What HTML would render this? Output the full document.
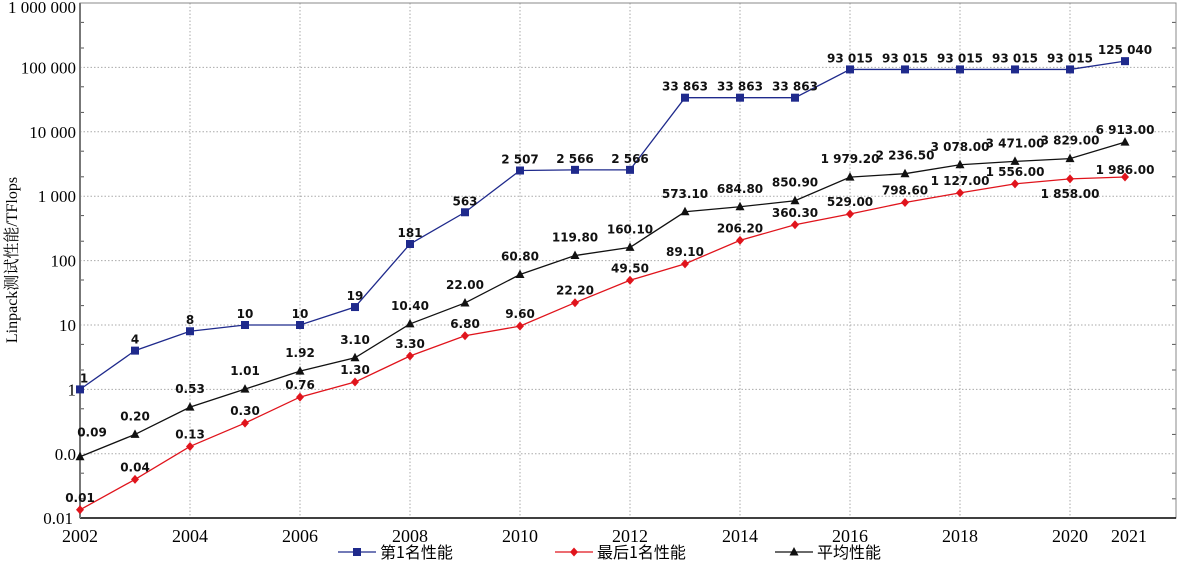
<!DOCTYPE html><html><head><meta charset="utf-8"><style>body{margin:0;background:#fff}svg{display:block}</style></head><body>
<svg id="s" width="1181" height="565" xmlns="http://www.w3.org/2000/svg"></svg>
<script>
const s=document.getElementById('s');let h='';
const X=y=>80+55*(y-2002), Y=v=>3+64.4*(6-Math.log10(v));
for(let d=0;d<=8;d++){const y=3+64.4*d;if(d>0&&d<8)h+=`<line x1="80" x2="1176" y1="${y}" y2="${y}" stroke="#aaa" stroke-dasharray="1.5,2"/>`;
const lab=['1 000 000','100 000','10 000','1 000','100','10','1','0.0','0.01'][d];
h+=`<text x="${d==8?73:76}" y="${d==0?13:y+6}" text-anchor="end" font-family="Liberation Serif,serif" font-size="17">${lab}</text>`;
for(const m of [2,5]){const yy=y-64.4*Math.log10(m);if(d>0)h+=`<line x1="80" x2="84" y1="${yy}" y2="${yy}" stroke="#555"/><line x1="1172" x2="1176" y1="${yy}" y2="${yy}" stroke="#555"/>`;}}
for(let yr=2004;yr<=2020;yr+=2)h+=`<line x1="${X(yr)}" x2="${X(yr)}" y1="3" y2="518" stroke="#aaa" stroke-dasharray="1.5,2"/>`;
h+=`<rect x="80" y="3" width="1096" height="515" fill="none" stroke="#888"/><line x1="80" x2="1176" y1="518" y2="518" stroke="#000" stroke-width="1.5"/><line x1="80" x2="80" y1="3" y2="518" stroke="#777" stroke-width="2"/>`;
for(const yr of [2002,2004,2006,2008,2010,2012,2014,2016,2018,2020,2021])h+=`<text x="${X(yr)+(yr==2021?4:0)}" y="542" text-anchor="middle" font-family="Liberation Serif,serif" font-size="18">${yr}</text>`;
h+=`<text transform="translate(17,260) rotate(-90)" text-anchor="middle" font-family="Liberation Serif,'Noto Serif CJK SC',serif" font-size="16">Linpack测试性能/TFlops</text>`;
const A=[1,4,8,10,10,19,181,563,2507,2566,2566,33863,33863,33863,93015,93015,93015,93015,93015,125040];
const AL=['1','4','8','10','10','19','181','563','2 507','2 566','2 566','33 863','33 863','33 863','93 015','93 015','93 015','93 015','93 015','125 040'];
const B=[0.0135,0.04,0.13,0.30,0.76,1.30,3.30,6.80,9.60,22.20,49.50,89.10,206.20,360.30,529,798.6,1127,1556,1858,1986];
const BL=['0.01','0.04','0.13','0.30','0.76','1.30','3.30','6.80','9.60','22.20','49.50','89.10','206.20','360.30','529.00','798.60','1 127.00','1 556.00','1 858.00','1 986.00'];
const C=[0.09,0.20,0.53,1.01,1.92,3.10,10.40,22.00,60.80,119.80,160.10,573.10,684.80,850.90,1979.20,2236.50,3078,3471,3829,6913];
const CL=['0.09','0.20','0.53','1.01','1.92','3.10','10.40','22.00','60.80','119.80','160.10','573.10','684.80','850.90','1 979.20','2 236.50','3 078.00','3 471.00','3 829.00','6 913.00'];
function ser(v,L,col,mk,dy){let p=v.map((a,i)=>X(2002+i)+','+Y(a)).join(' ');
h+=`<polyline points="${p}" fill="none" stroke="${col}" stroke-width="1.3"/>`;
v.forEach((a,i)=>{const x=X(2002+i),y=Y(a);h+=mark(x,y,col,mk);
let lx=x,ly=y-dy(i);if(L===AL&&i==0)lx=x+4;if(L===BL&&i==18)ly=y+19;if(L===CL&&i==0)lx=x+12,ly=y-20;
h+=`<text x="${lx}" y="${ly}" text-anchor="middle" font-family="DejaVu Sans,sans-serif" font-weight="bold" font-size="12" fill="#111">${L[i]}</text>`;});}
function mark(x,y,c,m){if(m=='s')return `<rect x="${x-4}" y="${y-4}" width="8" height="8" fill="${c}"/>`;
if(m=='d')return `<polygon points="${x},${y-4.5} ${x+4},${y} ${x},${y+4.5} ${x-4},${y}" fill="${c}"/>`;
return `<polygon points="${x},${y-5} ${x+4.5},${y+3.5} ${x-4.5},${y+3.5}" fill="${c}"/>`;}
ser(A,AL,'#1f2a8c','s',()=>7);ser(B,BL,'#e0141c','d',i=>i==19?3:8);ser(C,CL,'#111','t',i=>i==19?8:14);
[[338,'#1f2a8c','s','第1名性能'],[555,'#e0141c','d','最后1名性能'],[775,'#111','t','平均性能']].forEach(([x,c,m,t])=>{
h+=`<line x1="${x}" x2="${x+38}" y1="552" y2="552" stroke="${c}" stroke-width="1.3"/>`+mark(x+19,552,c,m)+`<text x="${x+42}" y="558" font-family="'Noto Sans CJK SC',sans-serif" font-size="16">${t}</text>`;});
s.innerHTML=h;
</script></body></html>
